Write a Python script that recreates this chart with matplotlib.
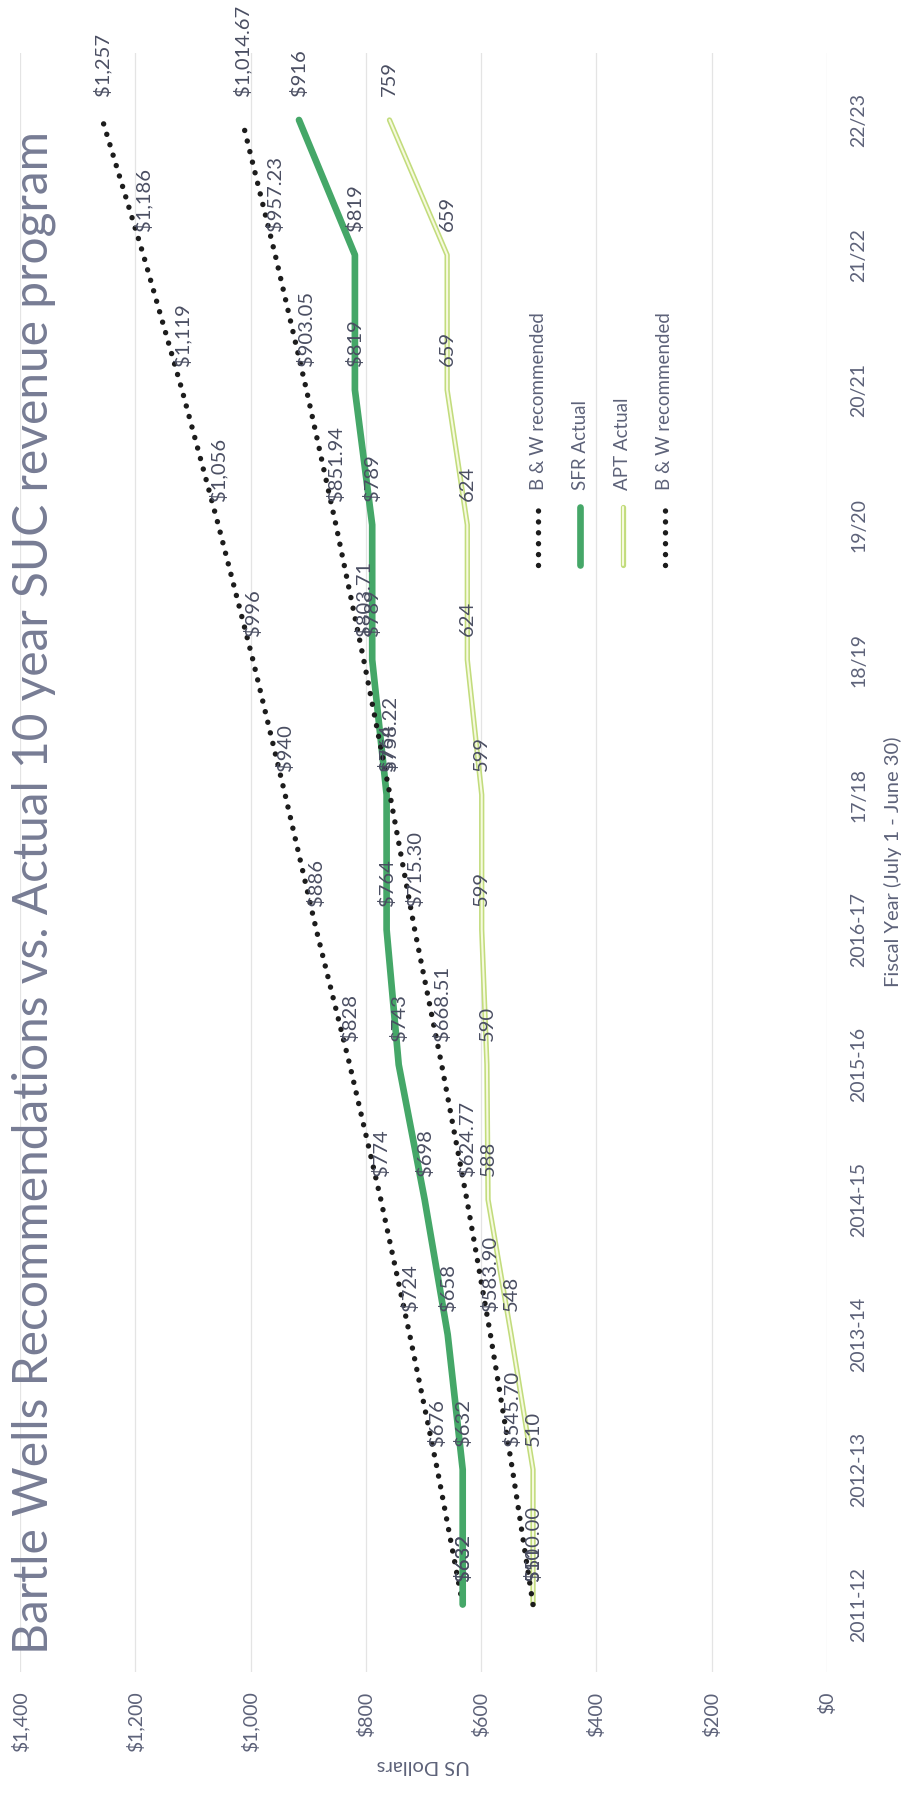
import numpy as np
import matplotlib
matplotlib.use("Agg")
import matplotlib.pyplot as plt
import matplotlib.patheffects as pe
from matplotlib.ticker import FuncFormatter

plt.rcParams['font.family'] = ['Lato', 'DejaVu Sans']

years = ['2011-12', '2012-13', '2013-14', '2014-15', '2015-16', '2016-17',
         '17/18', '18/19', '19/20', '20/21', '21/22', '22/23']
bw_sfr = [632, 676, 724, 774, 828, 886, 940, 996, 1056, 1119, 1186, 1257]
sfr_actual = [632, 632, 658, 698, 743, 764, 764, 789, 789, 819, 819, 916]
apt_actual = [510, 510, 548, 588, 590, 599, 599, 624, 624, 659, 659, 759]
bw_apt = [510.00, 545.70, 583.90, 624.77, 668.51, 715.30, 758.22, 803.71,
          851.94, 903.05, 957.23, 1014.67]
legend_names = ['B & W recommended', 'SFR Actual', 'APT Actual', 'B & W recommended']

TXT = '#5d6279'
LBL = '#4a4e62'
DOT = '#1c1c1c'
GREEN = '#45a768'
APT_EDGE = '#c2dc7c'
APT_FILL = '#f6fade'

W, H = 903, 1796
fig = plt.figure(figsize=(W / 100, H / 100), dpi=100)
L, R, T, B = 20, 827, 52.5, 1672
ax = fig.add_axes([L / W, 1 - B / H, (R - L) / W, (B - T) / H])

y = np.arange(len(years))
dotted = dict(color=DOT, lw=3.9, linestyle=(0, (0.01, 2.0)), dash_capstyle='round')
apt_fx = [pe.Stroke(linewidth=3.8, foreground=APT_EDGE), pe.Normal()]

ax.plot(bw_sfr, y, **dotted, zorder=3)
ax.plot(sfr_actual, y, color=GREEN, lw=4.8, solid_capstyle='round', zorder=3)
ax.plot(apt_actual, y, color=APT_FILL, lw=1.5, path_effects=apt_fx,
        solid_capstyle='round', zorder=3)
ax.plot(bw_apt, y, **dotted, zorder=3)

fs_lbl = 14.5
def labels(vals, fmt):
    for yi, v in zip(y, vals):
        ax.annotate(fmt(v), (v, yi), xytext=(0, 17), textcoords='offset points',
                    rotation=90, ha='center', va='bottom', fontsize=fs_lbl,
                    color=LBL, zorder=4)

labels(bw_sfr, lambda v: f"${v:,.0f}")
labels(sfr_actual, lambda v: f"${v:,.0f}")
labels(apt_actual, lambda v: f"{v:.0f}")
labels(bw_apt, lambda v: f"${v:,.2f}")

ax.set_xlim(1400, 0)
ax.set_ylim(-0.5, len(years) - 0.5)
ax.set_xticks(np.arange(0, 1401, 200))
ax.xaxis.set_major_formatter(FuncFormatter(lambda v, p: f"${v:,.0f}"))
ax.set_yticks(y)
ax.set_yticklabels(years)
ax.yaxis.tick_right()
ax.tick_params(axis='x', length=0, pad=14, labelsize=14, labelcolor=TXT, labelrotation=90)
ax.tick_params(axis='y', length=0, pad=17, labelsize=14, labelcolor=TXT)
for t in ax.get_yticklabels():
    t.set_rotation(90)
    t.set_va('center')
    t.set_ha('left')
ax.grid(axis='x', color='#e4e4e4', lw=0.9)
ax.set_axisbelow(True)
for s in ax.spines.values():
    s.set_visible(False)

# legend drawn by hand, rotated with the chart
leg_x = [0.642, 0.694, 0.747, 0.799]
for i, nm in enumerate(legend_names):
    xs = [leg_x[i], leg_x[i]]
    ys = [0.6835, 0.7194]
    if i in (0, 3):
        ax.plot(xs, ys, transform=ax.transAxes, **dotted, clip_on=False)
    elif i == 1:
        ax.plot(xs, ys, transform=ax.transAxes, color=GREEN, lw=4.8,
                solid_capstyle='round', clip_on=False)
    else:
        ax.plot(xs, ys, transform=ax.transAxes, color=APT_FILL, lw=1.5,
                path_effects=apt_fx, solid_capstyle='round', clip_on=False)
    ax.text(leg_x[i], 0.7299, nm, transform=ax.transAxes, rotation=90,
            ha='center', va='bottom', fontsize=13.5, color=TXT)

fig.text(34 / W, 1 - 892 / H, "Bartle Wells Recommendations vs. Actual 10 year SUC revenue program",
         rotation=90, ha='center', va='center', fontsize=34.5, color='#777c94')
fig.text(893 / W, 1 - 862 / H, "Fiscal Year (July 1 - June 30)", rotation=90,
         ha='center', va='center', fontsize=14.5, color=TXT)
fig.text(((L + R) / 2) / W, 1 - 1765 / H, "US Dollars", rotation=180,
         ha='center', va='center', fontsize=14.5, color=TXT)

fig.savefig("out.png", dpi=100)
